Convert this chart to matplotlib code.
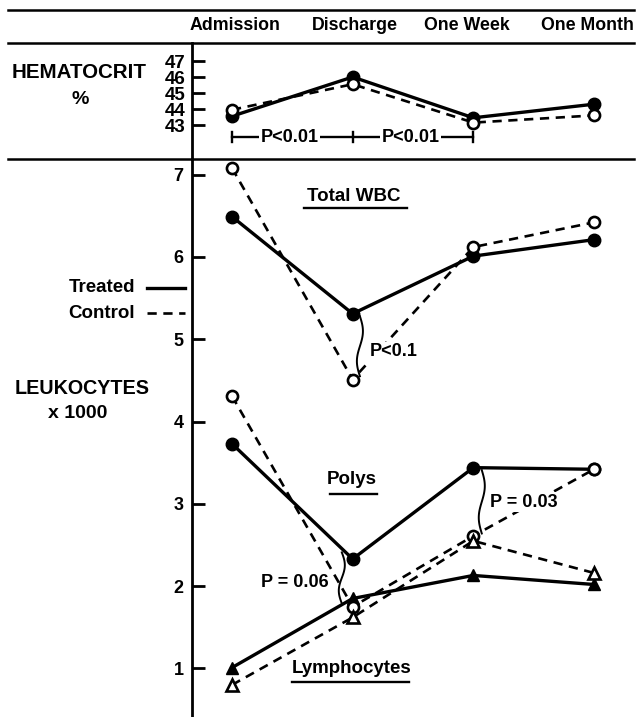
import numpy as np
import matplotlib
matplotlib.use("Agg")
import matplotlib.pyplot as plt
from matplotlib.lines import Line2D

plt.rcParams["font.family"] = ["Liberation Sans", "DejaVu Sans"]
plt.rcParams["font.weight"] = "bold"


# Data
times = ["Admission", "Discharge", "One Week", "One Month"]

hct_treated = [43.55, 46.0, 43.45, 44.3]
hct_control = [43.95, 45.55, 43.15, 43.6]
hct_ticks = [43, 44, 45, 46, 47]

wbc_treated = [6.49, 5.31, 6.01, 6.21]
wbc_control = [7.08, 4.51, 6.12, 6.42]
polys_treated = [3.73, 2.33, 3.44, 3.42]
polys_control = [4.31, 1.75, 2.61, 3.42]
lymph_treated = [1.01, 1.85, 2.13, 2.02]
lymph_control = [0.80, 1.62, 2.55, 2.16]
leuk_ticks = [1, 2, 3, 4, 5, 6, 7]


W, H = 637, 717
fig = plt.figure(figsize=(W / 100, H / 100), dpi=100)

ax_h = fig.add_axes([192 / W, 1 - 159 / H, 1 - 192 / W, (159 - 43) / H])
ax_l = fig.add_axes([192 / W, 0, 1 - 192 / W, 1 - 159 / H])

x = np.arange(len(times))
step = 120.67
for ax in (ax_h, ax_l):
    ax.set_xlim(-40 / step, 3 + 43 / step)
    for s in ("top", "right", "bottom"):
        ax.spines[s].set_visible(False)
    ax.spines["left"].set_linewidth(2)
    ax.set_xticks([])
    ax.tick_params(axis="y", direction="in", length=9, width=2, pad=6)
    ax.patch.set_alpha(0)

ax_h.set_ylim(40.875, 48.125)
ax_h.set_yticks(hct_ticks)
ax_h.tick_params(axis="y", labelsize=13.5, pad=5)
ax_l.set_ylim(0.41, 7.19)
ax_l.set_yticks(leuk_ticks)
ax_l.tick_params(axis="y", labelsize=13)


def treated(ax, vals, marker="o"):
    ax.plot(x, vals, "-", color="k", lw=2.4, marker=marker, ms=9,
            mfc="k", mec="k", zorder=3)


def control(ax, vals, marker="o"):
    ax.plot(x, vals, color="k", lw=1.9, ls=(0, (3.5, 2.5)), marker=marker,
            ms=8, mfc="white", mec="k", mew=1.9, zorder=4)


treated(ax_h, hct_treated)
control(ax_h, hct_control)

treated(ax_l, wbc_treated)
control(ax_l, wbc_control)
treated(ax_l, polys_treated)
control(ax_l, polys_control)
treated(ax_l, lymph_treated, "^")
control(ax_l, lymph_control, "^")


# P < 0.01 bracket under hematocrit
yb = 42.25
ax_h.plot([0, 2], [yb, yb], color="k", lw=1.7)
for xi in (0, 1, 2):
    ax_h.plot([xi, xi], [yb - 0.3, yb + 0.3], color="k", lw=1.7)
for xc in (0.48, 1.48):
    ax_h.text(xc, yb, "P<0.01", ha="center", va="center", fontsize=13,
              bbox=dict(facecolor="white", edgecolor="none", pad=1))


# wavy braces and p-values
def brace(ax, x0, y0, y1):
    t = np.linspace(0, 1, 60)
    ax.plot(x0 + 0.025 * np.sin(2 * np.pi * t), y0 + (y1 - y0) * t,
            color="k", lw=1.4)


box = dict(facecolor="white", edgecolor="none", pad=1)
brace(ax_l, 1.06, 5.28, 4.55)
ax_l.text(1.14, 4.85, "P<0.1", ha="left", va="center", fontsize=13,
          bbox=box, zorder=5)
brace(ax_l, 0.91, 2.41, 1.79)
ax_l.text(0.80, 2.04, "P = 0.06", ha="right", va="center", fontsize=13)
brace(ax_l, 2.07, 3.41, 2.64)
ax_l.text(2.14, 3.02, "P = 0.03", ha="left", va="center", fontsize=13,
          bbox=box, zorder=5)


# curve names with underline
def label(ax, xc, y, yline, x0, x1, txt):
    ax.text(xc, y, txt, ha="center", va="center", fontsize=13.5)
    ax.plot([x0, x1], [yline, yline], color="k", lw=1.7)


label(ax_l, 1.01, 6.73, 6.59, 0.60, 1.45, "Total WBC")
label(ax_l, 0.99, 3.29, 3.12, 0.81, 1.20, "Polys")
label(ax_l, 0.99, 1.00, 0.83, 0.50, 1.47, "Lymphocytes")


# header rules and column names
for yy in (10, 43, 159):
    fig.add_artist(Line2D([8 / W, 634 / W], [1 - yy / H] * 2,
                          color="k", lw=1.8))
header_x = [235, 355, 467, 587]
for hx, t in zip(header_x, times):
    fig.text(hx / W, 1 - 26 / H, t, ha="center", va="center", fontsize=12.8)

fig.text(79 / W, 1 - 72 / H, "HEMATOCRIT", ha="center", va="center",
         fontsize=14.8)
fig.text(80 / W, 1 - 100 / H, "%", ha="center", va="center", fontsize=14)
fig.text(82 / W, 1 - 388 / H, "LEUKOCYTES", ha="center", va="center",
         fontsize=14.2)
fig.text(78 / W, 1 - 413 / H, "x 1000", ha="center", va="center",
         fontsize=14)

# legend
fig.text(135 / W, 1 - 288 / H, "Treated", ha="right", va="center",
         fontsize=13.5)
fig.add_artist(Line2D([147 / W, 185 / W], [1 - 288 / H] * 2, color="k", lw=2.4))
fig.text(135 / W, 1 - 313 / H, "Control", ha="right", va="center",
         fontsize=13.5)
fig.add_artist(Line2D([147 / W, 185 / W], [1 - 313 / H] * 2, color="k",
                      lw=1.9, ls=(0, (3.5, 2.5))))

fig.savefig("out.png", dpi=100)
